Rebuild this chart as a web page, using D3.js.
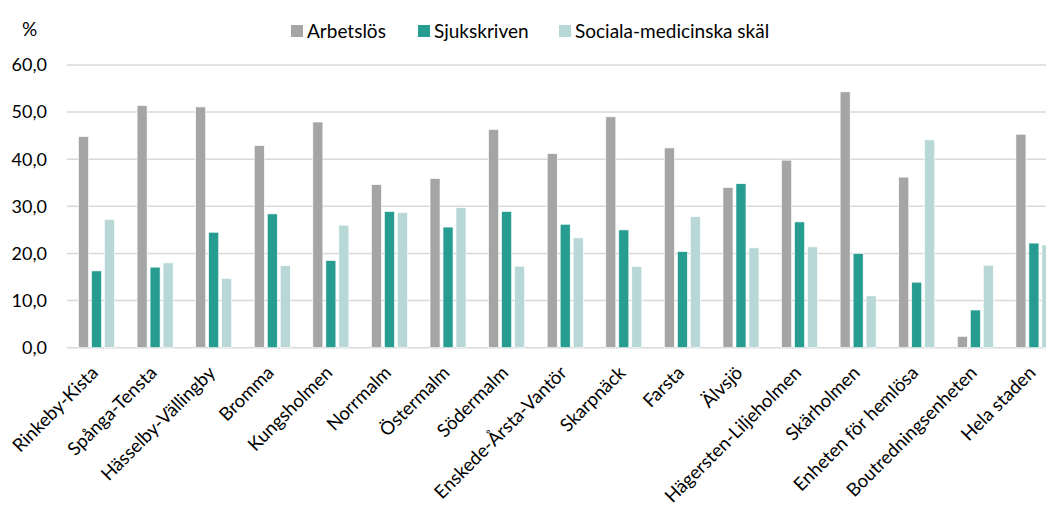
<!DOCTYPE html>
<html>
<head>
<meta charset="utf-8">
<script src="https://cdn.jsdelivr.net/npm/d3@7"></script>
<style>
  body { margin: 0; background: #fff; }
  text { font-family: Lato, 'Open Sans', sans-serif; fill: #000; }
</style>
</head>
<body>
<script>
const width = 1046
const height = 507

// data
const categories = ['Rinkeby-Kista', 'Spånga-Tensta', 'Hässelby-Vällingby', 'Bromma', 'Kungsholmen',
  'Norrmalm', 'Östermalm', 'Södermalm', 'Enskede-Årsta-Vantör', 'Skarpnäck', 'Farsta', 'Älvsjö',
  'Hägersten-Liljeholmen', 'Skärholmen', 'Enheten för hemlösa', 'Boutredningsenheten', 'Hela staden']
const seriesNames = ['Arbetslös', 'Sjukskriven', 'Sociala-medicinska skäl']
const arbetslos = [44.8, 51.4, 51.1, 42.9, 47.9, 34.6, 35.9, 46.3, 41.2, 49.0, 42.4, 34.0, 39.8, 54.3, 36.2, 2.4, 45.3]
const sjukskriven = [16.3, 17.1, 24.5, 28.4, 18.5, 28.9, 25.6, 28.9, 26.2, 25.0, 20.4, 34.8, 26.7, 20.0, 13.9, 8.0, 22.2]
const sociala = [27.2, 18.0, 14.7, 17.4, 26.0, 28.7, 29.7, 17.3, 23.3, 17.2, 27.8, 21.2, 21.4, 11.0, 44.1, 17.5, 21.8]
const yTicks = [0, 10, 20, 30, 40, 50, 60]
const colors = ['#a5a5a5', '#279d91', '#b7d8d6']

const values = [arbetslos, sjukskriven, sociala]

const svg = d3.select('body').append('svg')
  .attr('width', width)
  .attr('height', height)

const x0 = d3.scaleBand()
  .domain(categories)
  .range([67, 1063])

const x1 = d3.scaleBand()
  .domain(seriesNames)
  .range([11.5, 47.5])
  .paddingInner(0.23)

const y = d3.scaleLinear()
  .domain([0, 60])
  .range([347.7, 65])

// grid
svg.append('g')
  .selectAll('line')
  .data(yTicks)
  .enter().append('line')
  .attr('x1', 67)
  .attr('x2', width)
  .attr('y1', function (d) { return y(d) })
  .attr('y2', function (d) { return y(d) })
  .attr('stroke', '#d9d9d9')
  .attr('stroke-width', 1.5)

svg.append('g')
  .selectAll('text')
  .data(yTicks)
  .enter().append('text')
  .attr('x', 47)
  .attr('y', function (d) { return y(d) })
  .attr('dy', '0.35em')
  .attr('text-anchor', 'end')
  .style('font-size', '18px')
  .text(function (d) { return d.toFixed(1).replace('.', ',') })

svg.append('text')
  .attr('x', 22)
  .attr('y', 36)
  .style('font-size', '19px')
  .text('%')

// bars
const groups = svg.append('g')
  .selectAll('g')
  .data(categories)
  .enter().append('g')
  .attr('transform', function (d) { return 'translate(' + x0(d) + ',0)' })

groups.selectAll('rect')
  .data(function (d, i) { return seriesNames.map(function (s, j) { return { s: s, v: values[j][i], c: colors[j] } }) })
  .enter().append('rect')
  .attr('x', function (d) { return x1(d.s) })
  .attr('width', x1.bandwidth())
  .attr('y', function (d) { return y(d.v) })
  .attr('height', function (d) { return y(0) - y(d.v) })
  .attr('fill', function (d) { return d.c })
  .attr('stroke', '#fff')
  .attr('stroke-width', 0.6)

// x labels
svg.append('g')
  .selectAll('text')
  .data(categories)
  .enter().append('text')
  .attr('transform', function (d) { return 'translate(' + (x0(d) + x0.bandwidth() / 2 + 3) + ',374) rotate(-45)' })
  .attr('text-anchor', 'end')
  .style('font-size', '18.5px')
  .text(function (d) { return d })

// legend
const legendX = [291, 418, 559]
const legend = svg.append('g')
  .selectAll('g')
  .data(seriesNames)
  .enter().append('g')
  .attr('transform', function (d, i) { return 'translate(' + legendX[i] + ',25)' })

legend.append('rect')
  .attr('width', 12)
  .attr('height', 12)
  .attr('fill', function (d, i) { return colors[i] })

legend.append('text')
  .attr('x', 16)
  .attr('y', 12.5)
  .style('font-size', '19px')
  .text(function (d) { return d })
</script>
</body>
</html>
